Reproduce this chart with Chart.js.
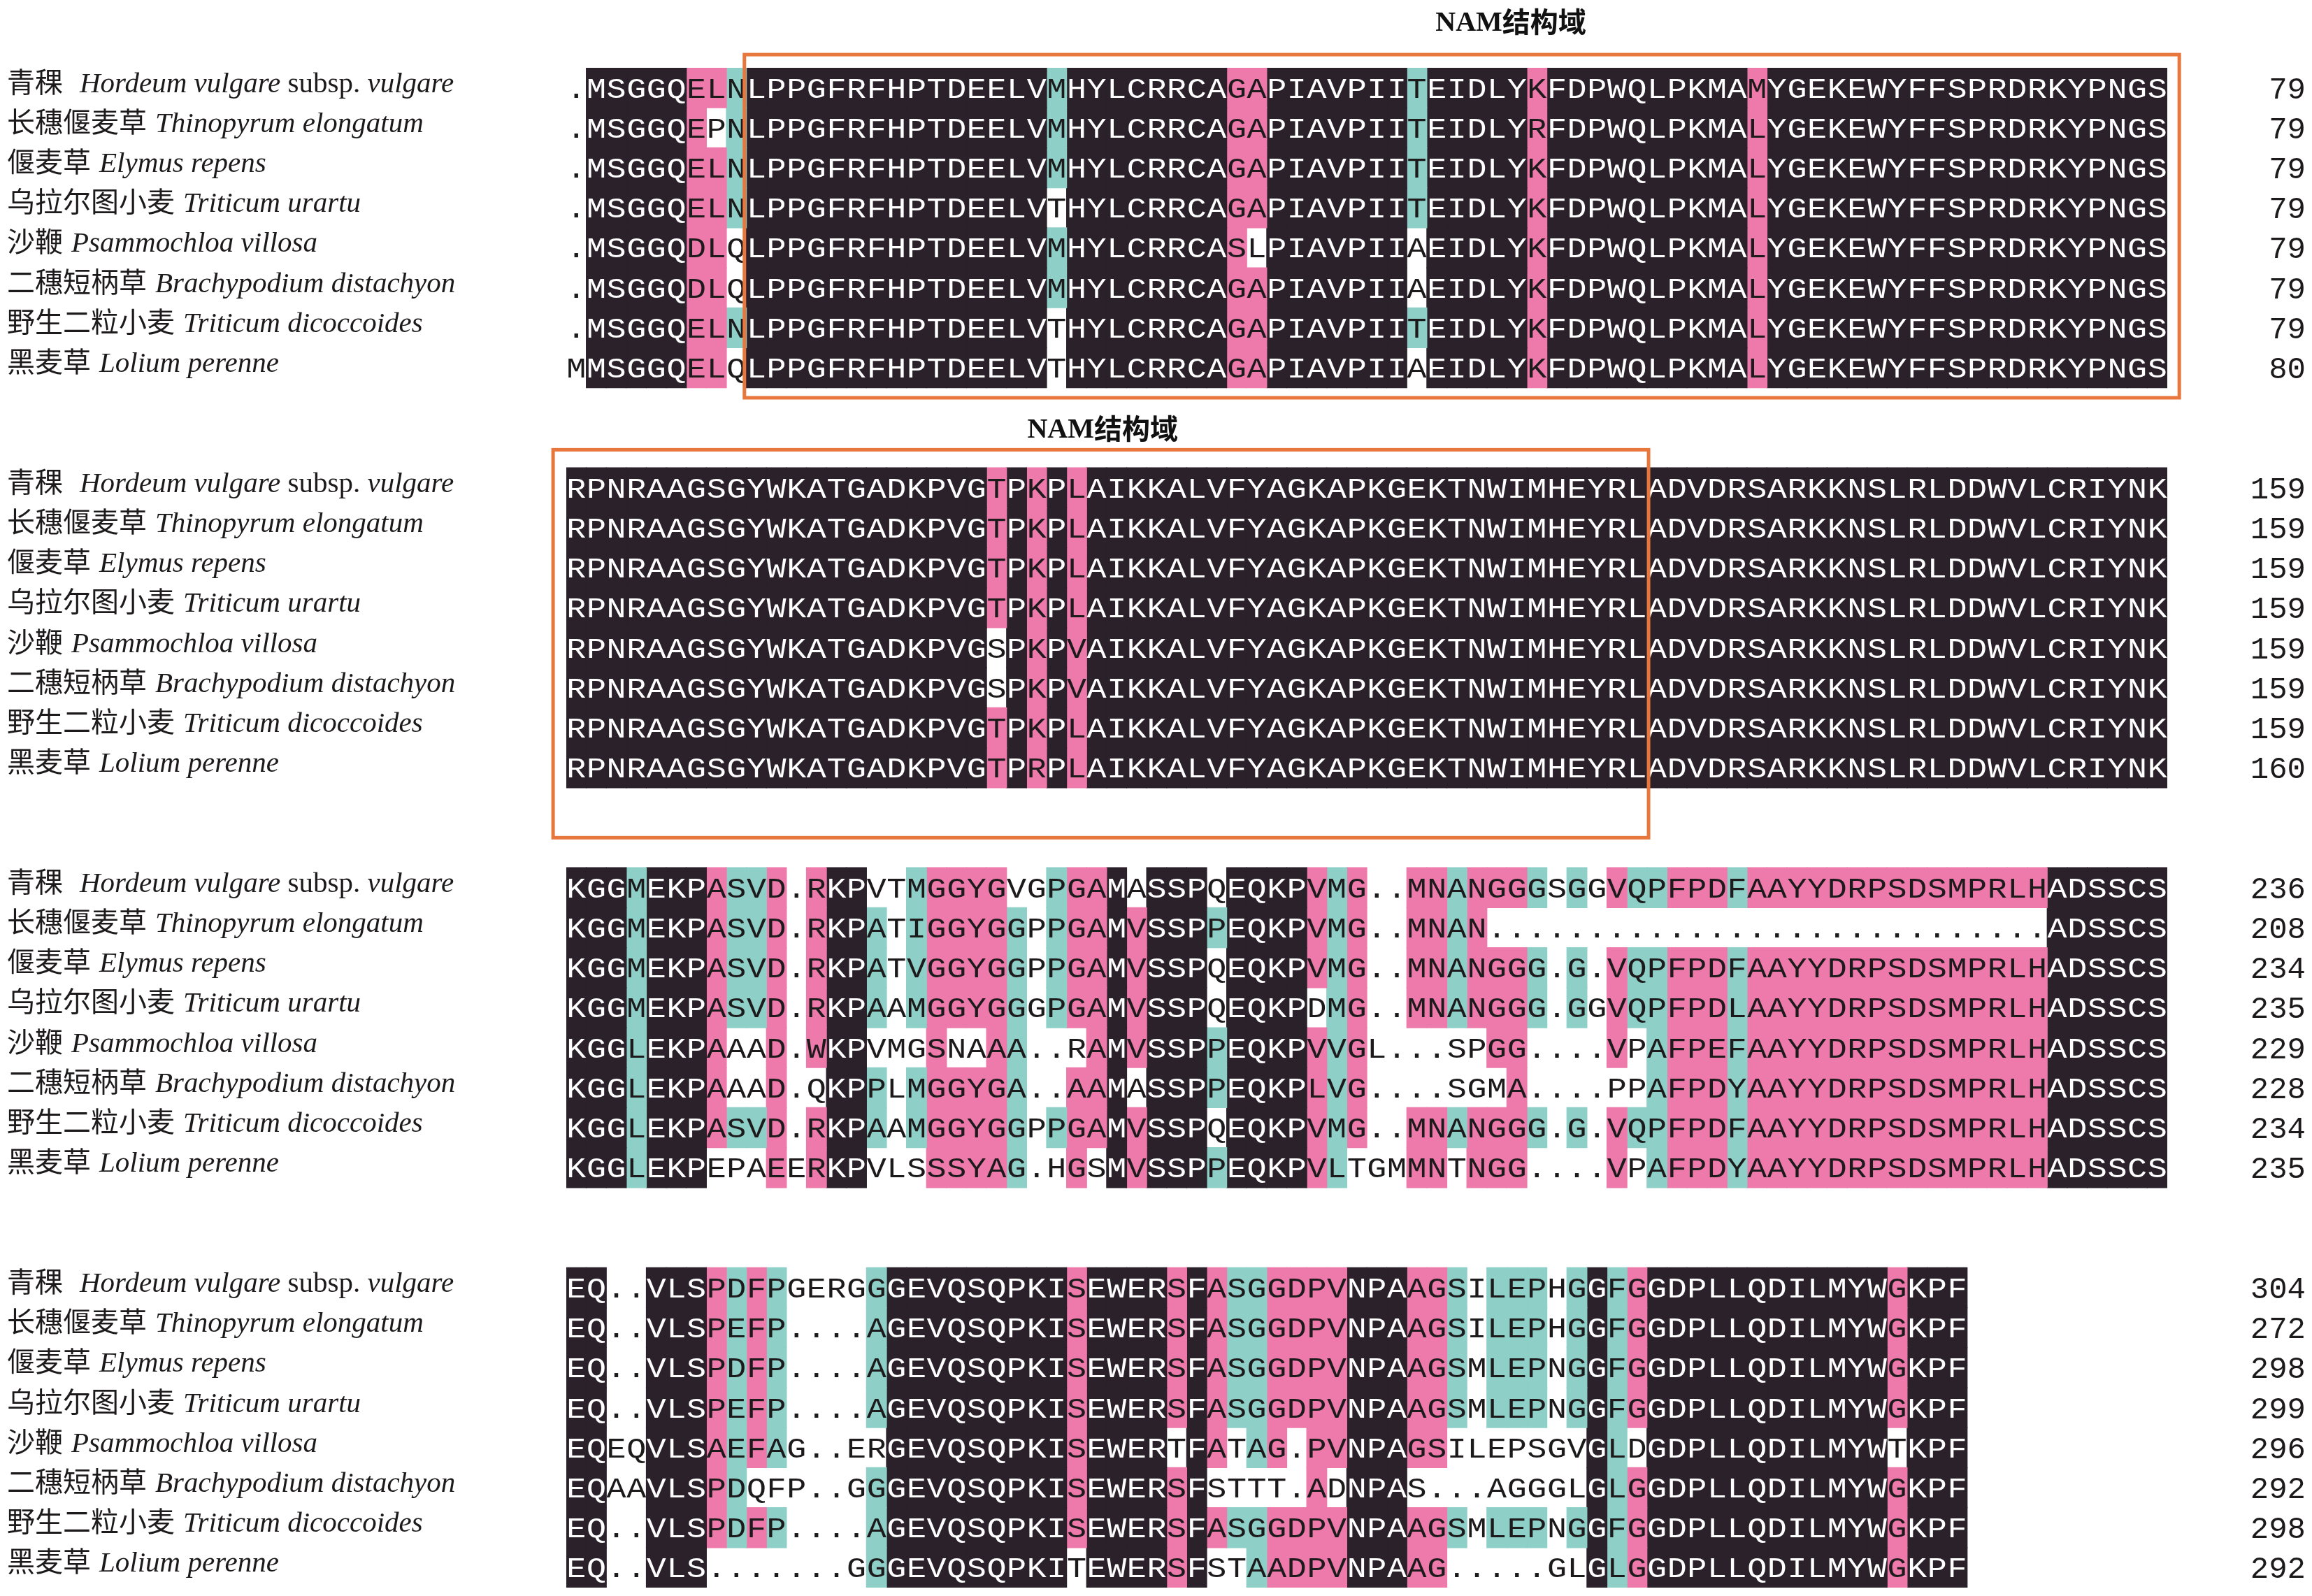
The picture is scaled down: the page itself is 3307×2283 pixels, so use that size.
<!DOCTYPE html>
<html>
<head>
<meta charset="utf-8">
<script src="https://cdn.jsdelivr.net/npm/chart.js@4.4.1/dist/chart.umd.min.js"></script>
<style>
  html, body { margin: 0; padding: 0; background: #ffffff; }
  canvas { display: block; }
</style>
</head>
<body>
<canvas id="alignChart" width="3307" height="2283"></canvas>
<script>
// species shown on the left of every block
const speciesCn = ['青稞', '长穗偃麦草', '偃麦草', '乌拉尔图小麦', '沙鞭', '二穗短柄草', '野生二粒小麦', '黑麦草'];
const speciesLatin = ['Hordeum vulgare subsp. vulgare', 'Thinopyrum elongatum', 'Elymus repens', 'Triticum urartu',
  'Psammochloa villosa', 'Brachypodium distachyon', 'Triticum dicoccoides', 'Lolium perenne'];

// aligned sequences, one array per block ('.' = gap)
const block1 = [
  '.MSGGQELNLPPGFRFHPTDEELVMHYLCRRCAGAPIAVPIITEIDLYKFDPWQLPKMAMYGEKEWYFFSPRDRKYPNGS',
  '.MSGGQEPNLPPGFRFHPTDEELVMHYLCRRCAGAPIAVPIITEIDLYRFDPWQLPKMALYGEKEWYFFSPRDRKYPNGS',
  '.MSGGQELNLPPGFRFHPTDEELVMHYLCRRCAGAPIAVPIITEIDLYKFDPWQLPKMALYGEKEWYFFSPRDRKYPNGS',
  '.MSGGQELNLPPGFRFHPTDEELVTHYLCRRCAGAPIAVPIITEIDLYKFDPWQLPKMALYGEKEWYFFSPRDRKYPNGS',
  '.MSGGQDLQLPPGFRFHPTDEELVMHYLCRRCASLPIAVPIIAEIDLYKFDPWQLPKMALYGEKEWYFFSPRDRKYPNGS',
  '.MSGGQDLQLPPGFRFHPTDEELVMHYLCRRCAGAPIAVPIIAEIDLYKFDPWQLPKMALYGEKEWYFFSPRDRKYPNGS',
  '.MSGGQELNLPPGFRFHPTDEELVTHYLCRRCAGAPIAVPIITEIDLYKFDPWQLPKMALYGEKEWYFFSPRDRKYPNGS',
  'MMSGGQELQLPPGFRFHPTDEELVTHYLCRRCAGAPIAVPIIAEIDLYKFDPWQLPKMALYGEKEWYFFSPRDRKYPNGS'
];
const block2 = [
  'RPNRAAGSGYWKATGADKPVGTPKPLAIKKALVFYAGKAPKGEKTNWIMHEYRLADVDRSARKKNSLRLDDWVLCRIYNK',
  'RPNRAAGSGYWKATGADKPVGTPKPLAIKKALVFYAGKAPKGEKTNWIMHEYRLADVDRSARKKNSLRLDDWVLCRIYNK',
  'RPNRAAGSGYWKATGADKPVGTPKPLAIKKALVFYAGKAPKGEKTNWIMHEYRLADVDRSARKKNSLRLDDWVLCRIYNK',
  'RPNRAAGSGYWKATGADKPVGTPKPLAIKKALVFYAGKAPKGEKTNWIMHEYRLADVDRSARKKNSLRLDDWVLCRIYNK',
  'RPNRAAGSGYWKATGADKPVGSPKPVAIKKALVFYAGKAPKGEKTNWIMHEYRLADVDRSARKKNSLRLDDWVLCRIYNK',
  'RPNRAAGSGYWKATGADKPVGSPKPVAIKKALVFYAGKAPKGEKTNWIMHEYRLADVDRSARKKNSLRLDDWVLCRIYNK',
  'RPNRAAGSGYWKATGADKPVGTPKPLAIKKALVFYAGKAPKGEKTNWIMHEYRLADVDRSARKKNSLRLDDWVLCRIYNK',
  'RPNRAAGSGYWKATGADKPVGTPRPLAIKKALVFYAGKAPKGEKTNWIMHEYRLADVDRSARKKNSLRLDDWVLCRIYNK'
];
const block3 = [
  'KGGMEKPASVD.RKPVTMGGYGVGPGAMASSPQEQKPVMG..MNANGGGSGGVQPFPDFAAYYDRPSDSMPRLHADSSCS',
  'KGGMEKPASVD.RKPATIGGYGGPPGAMVSSPPEQKPVMG..MNAN' + '..........' + '..........' + '........' + 'ADSSCS',
  'KGGMEKPASVD.RKPATVGGYGGPPGAMVSSPQEQKPVMG..MNANGGG.G.VQPFPDFAAYYDRPSDSMPRLHADSSCS',
  'KGGMEKPASVD.RKPAAMGGYGGGPGAMVSSPQEQKPDMG..MNANGGG.GGVQPFPDLAAYYDRPSDSMPRLHADSSCS',
  'KGGLEKPAAAD.WKPVMGSNAAA..RAMVSSPPEQKPVVGL...SPGG....VPAFPEFAAYYDRPSDSMPRLHADSSCS',
  'KGGLEKPAAAD.QKPPLMGGYGA..AAMASSPPEQKPLVG....SGMA....PPAFPDYAAYYDRPSDSMPRLHADSSCS',
  'KGGLEKPASVD.RKPAAMGGYGGPPGAMVSSPQEQKPVMG..MNANGGG.G.VQPFPDFAAYYDRPSDSMPRLHADSSCS',
  'KGGLEKPEPAEERKPVLSSSYAG.HGSMVSSPPEQKPVLTGMMNTNGG....VPAFPDYAAYYDRPSDSMPRLHADSSCS'
];
const block4 = [
  'EQ..VLSPDFPGERGGGEVQSQPKISEWERSFASGGDPVNPAAGSILEPHGGFGGDPLLQDILMYWGKPF',
  'EQ..VLSPEFP....AGEVQSQPKISEWERSFASGGDPVNPAAGSILEPHGGFGGDPLLQDILMYWGKPF',
  'EQ..VLSPDFP....AGEVQSQPKISEWERSFASGGDPVNPAAGSMLEPNGGFGGDPLLQDILMYWGKPF',
  'EQ..VLSPEFP....AGEVQSQPKISEWERSFASGGDPVNPAAGSMLEPNGGFGGDPLLQDILMYWGKPF',
  'EQEQVLSAEFAG..ERGEVQSQPKISEWERTFATAG.PVNPAGSILEPSGVGLDGDPLLQDILMYWTKPF',
  'EQAAVLSPDQFP..GGGEVQSQPKISEWERSFSTTT.ADNPAS...AGGGLGLGGDPLLQDILMYWGKPF',
  'EQ..VLSPDFP....AGEVQSQPKISEWERSFASGGDPVNPAAGSMLEPNGGFGGDPLLQDILMYWGKPF',
  'EQ..VLS.......GGGEVQSQPKITEWERSFSTAADPVNPAAG.....GLGLGGDPLLQDILMYWGKPF'
];

// residue numbers printed at the end of each line
const ends1 = [79, 79, 79, 79, 79, 79, 79, 80];
const ends2 = [159, 159, 159, 159, 159, 159, 159, 160];
const ends3 = [236, 208, 234, 235, 229, 228, 234, 235];
const ends4 = [304, 272, 298, 299, 296, 292, 298, 292];

const blocks = [block1, block2, block3, block4];
const blockEnds = [ends1, ends2, ends3, ends4];

// residue pairs that share the colour of the column consensus
const similarPairs = ['DE', 'KR', 'IL', 'IM', 'IV', 'LM', 'LV', 'MV', 'FY', 'FL', 'GS', 'AG', 'AP', 'RW'];
const shadeColor = { b: '#2b212b', p: '#ee7aab', c: '#8ecfc8' };

function isSimilar(a, b) {
  return similarPairs.includes(a + b) || similarPairs.includes(b + a);
}

// homology level: 100% black, >=75% pink, >=50% cyan
function columnShades(rows, col) {
  const counts = {};
  rows.forEach(s => {
    const c = s[col];
    if (c && c !== '.') counts[c] = (counts[c] || 0) + 1;
  });
  let cons = null, n = 0;
  Object.keys(counts).sort().forEach(c => {
    if (counts[c] > n) { cons = c; n = counts[c]; }
  });
  const level = n === rows.length ? 'b' : n >= 6 ? 'p' : n >= 4 ? 'c' : null;
  return rows.map(s => {
    const c = s[col];
    if (!level || !c || c === '.') return null;
    if (c === cons || isSimilar(c, cons)) return level;
    return null;
  });
}

const ROWS_PER_BLOCK = 10; // 8 sequences + 2 spacer rows
const nCols = 80;

const shades = blocks.map(rows => {
  const out = [];
  for (let k = 0; k < nCols; k++) out.push(columnShades(rows, k));
  return out;
});

const rowLabels = [];
for (let b = 0; b < blocks.length; b++) {
  for (let r = 0; r < ROWS_PER_BLOCK; r++) {
    rowLabels.push(r < 8 ? speciesCn[r] + ' ' + (b + 1) : 'gap ' + b + r);
  }
}
rowLabels.length = blocks.length * ROWS_PER_BLOCK - 2;

// one floating-bar dataset per alignment column
const datasets = [];
for (let k = 0; k < nCols; k++) {
  const data = [], colors = [];
  rowLabels.forEach((_, ci) => {
    const b = Math.floor(ci / ROWS_PER_BLOCK), r = ci % ROWS_PER_BLOCK;
    const seq = r < 8 ? blocks[b][r] : null;
    if (seq && k < seq.length) {
      data.push([k, k + 1]);
      colors.push(shadeColor[shades[b][k][r]] || 'rgba(255,255,255,0)');
    } else {
      data.push(null);
      colors.push('rgba(0,0,0,0)');
    }
  });
  datasets.push({
    label: 'col ' + (k + 1),
    data: data,
    backgroundColor: colors,
    borderWidth: 0,
    barPercentage: 1,
    categoryPercentage: 1,
    grouped: false,
    inflateAmount: 0.6
  });
}

// NAM domain frames (column / row units)
const domains = [
  { x0: 8.9, x1: 80.6, y0: -0.83, y1: 7.75, tx: 47.2, ty: -1.67 },
  { x0: -0.66, x1: 54.08, y0: 9.05, y1: 18.75, tx: 26.8, ty: 8.5 }
];

const textPlugin = {
  id: 'alignmentText',
  afterDatasetsDraw(chart) {
    const { ctx, scales: { x, y } } = chart;
    ctx.save();

    // residues
    ctx.font = '41px "Liberation Mono"';
    ctx.textAlign = 'center';
    ctx.textBaseline = 'alphabetic';
    blocks.forEach((rows, b) => rows.forEach((seq, r) => {
      const yc = y.getPixelForValue(b * ROWS_PER_BLOCK + r);
      for (let k = 0; k < seq.length; k++) {
        ctx.fillStyle = shades[b][k][r] === 'b' ? '#ffffff' : '#1d1a1c';
        ctx.save();
        ctx.translate(x.getPixelForValue(k + 0.5), yc + 14);
        ctx.scale(1.14, 1);
        ctx.fillText(seq[k], 0, 0);
        ctx.restore();
      }
    }));

    // species names
    ctx.textAlign = 'left';
    ctx.fillStyle = '#1d1a1c';
    blocks.forEach((rows, b) => rows.forEach((seq, r) => {
      const yb = y.getPixelForValue(b * ROWS_PER_BLOCK + r) + 6;
      let px = 10;
      ctx.font = '40px "Noto Sans CJK SC"';
      ctx.fillText(speciesCn[r], px, yb);
      px += ctx.measureText(speciesCn[r]).width + (r === 0 ? 24 : 12);
      const parts = speciesLatin[r].split(' subsp. ');
      parts.forEach((p, i) => {
        if (i > 0) {
          ctx.font = '41px "Liberation Serif"';
          ctx.fillText(' subsp. ', px, yb);
          px += ctx.measureText(' subsp. ').width;
        }
        ctx.font = 'italic 41px "Liberation Serif"';
        ctx.fillText(p, px, yb);
        px += ctx.measureText(p).width;
      });
    }));

    // residue numbers
    ctx.textAlign = 'right';
    ctx.font = '44px "Liberation Mono"';
    blockEnds.forEach((nums, b) => nums.forEach((v, r) => {
      ctx.fillText(String(v), 3298, y.getPixelForValue(b * ROWS_PER_BLOCK + r) + 15);
    }));

    // domain frames and titles
    ctx.strokeStyle = '#e8773d';
    ctx.lineWidth = 5;
    domains.forEach(d => {
      const left = x.getPixelForValue(d.x0), right = x.getPixelForValue(d.x1);
      const top = y.getPixelForValue(d.y0), bottom = y.getPixelForValue(d.y1);
      ctx.strokeRect(left, top, right - left, bottom - top);

      ctx.fillStyle = '#111111';
      ctx.textAlign = 'left';
      ctx.font = 'bold 40px "Liberation Serif"';
      const w1 = ctx.measureText('NAM').width;
      ctx.font = 'bold 40px "Noto Sans CJK SC"';
      const w2 = ctx.measureText('结构域').width;
      const start = x.getPixelForValue(d.tx) - (w1 + w2) / 2;
      const base = y.getPixelForValue(d.ty) + 14;
      ctx.font = 'bold 40px "Liberation Serif"';
      ctx.fillText('NAM', start, base);
      ctx.font = 'bold 40px "Noto Sans CJK SC"';
      ctx.fillText('结构域', start + w1, base + 2);
    });

    ctx.restore();
  }
};

new Chart(document.getElementById('alignChart'), {
  type: 'bar',
  data: { labels: rowLabels, datasets: datasets },
  options: {
    indexAxis: 'y',
    responsive: false,
    animation: false,
    devicePixelRatio: 1,
    layout: { padding: { left: 810, right: 207, top: 97, bottom: 12 } },
    scales: {
      x: { type: 'linear', min: 0, max: nCols, display: false },
      y: { type: 'category', display: false }
    },
    plugins: {
      legend: { display: false },
      tooltip: { enabled: false }
    }
  },
  plugins: [textPlugin]
});
</script>
</body>
</html>
